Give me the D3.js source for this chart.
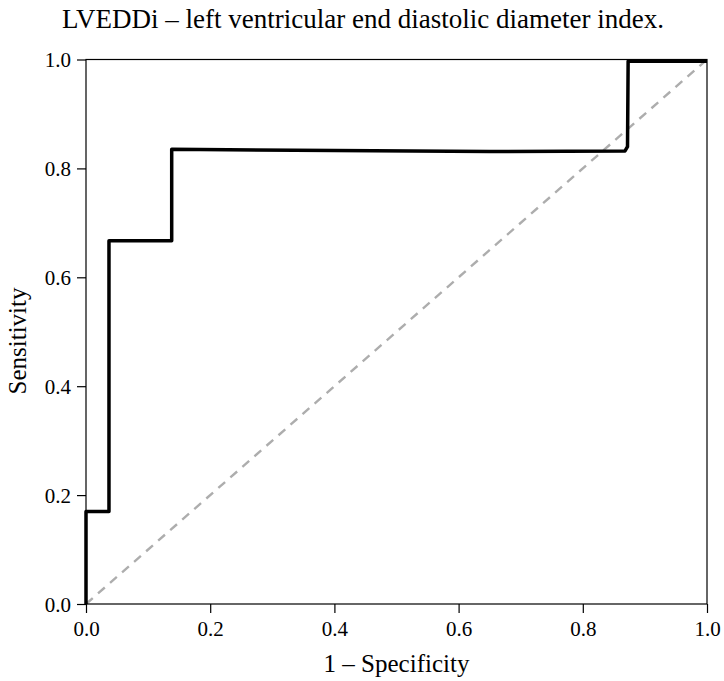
<!DOCTYPE html>
<html>
<head>
<meta charset="utf-8">
<script src="https://cdn.jsdelivr.net/npm/d3@7"></script>
<style>
  body { margin: 0; background: #fff; }
  svg text { font-family: "Liberation Serif", "Times New Roman", serif; fill: #000; }
</style>
</head>
<body>
<svg id="chart"></svg>
<script>
// ROC curve points (1 - specificity, sensitivity)
const fpr = [0, 0, 0.037, 0.037, 0.138, 0.138, 0.40, 0.65, 0.868, 0.872, 0.873, 1.0];
const tpr = [0, 0.17, 0.17, 0.667, 0.667, 0.835, 0.833, 0.831, 0.832, 0.84, 0.997, 0.997];
const tickValues = [0, 0.2, 0.4, 0.6, 0.8, 1.0];
const titleText = "LVEDDi \u2013 left ventricular end diastolic diameter index.";
const xLabel = "1 \u2013 Specificity";
const yLabel = "Sensitivity";

const width = 724, height = 681;
const margin = { top: 59.5, right: 17, bottom: 77, left: 86 };

const svg = d3.select('#chart')
  .attr('width', width)
  .attr('height', height);

const x = d3.scaleLinear().domain([0, 1]).range([margin.left, width - margin.right]);
const y = d3.scaleLinear().domain([0, 1]).range([height - margin.bottom, margin.top]);

// diagonal reference
svg.append('line')
  .attr('x1', x(0)).attr('y1', y(0))
  .attr('x2', x(1)).attr('y2', y(1))
  .attr('stroke', '#adadad')
  .attr('stroke-width', 2.4)
  .attr('stroke-dasharray', '9,7');

// frame
svg.append('rect')
  .attr('x', x(0)).attr('y', y(1))
  .attr('width', x(1) - x(0))
  .attr('height', y(0) - y(1))
  .attr('fill', 'none')
  .attr('stroke', '#000')
  .attr('stroke-width', 1.2);

// axes
const xAxis = svg.append('g')
  .attr('transform', `translate(0,${y(0)})`)
  .call(d3.axisBottom(x).tickValues(tickValues).tickFormat(d3.format('.1f')).tickSize(9).tickPadding(8));

const yAxis = svg.append('g')
  .attr('transform', `translate(${x(0)},0)`)
  .call(d3.axisLeft(y).tickValues(tickValues).tickFormat(d3.format('.1f')).tickSize(9).tickPadding(6));

[xAxis, yAxis].forEach(g => {
  g.attr('font-family', null).attr('font-size', null);
  g.select('.domain').remove();
  g.selectAll('line').attr('stroke', '#000').attr('stroke-width', 1.2);
  g.selectAll('text')
    .style('font-family', '"Liberation Serif", "Times New Roman", serif')
    .style('font-size', '21px');
});
yAxis.selectAll('text').attr('dy', '0.35em');

// ROC curve
const pts = fpr.map((d, i) => [d, tpr[i]]);
const line = d3.line().x(d => x(d[0])).y(d => y(d[1]));
svg.append('path')
  .datum(pts)
  .attr('d', line)
  .attr('fill', 'none')
  .attr('stroke', '#000')
  .attr('stroke-width', 3.5)
  .attr('stroke-linejoin', 'round');

// title
svg.append('text')
  .attr('x', 363)
  .attr('y', 28)
  .attr('text-anchor', 'middle')
  .attr('font-size', '27px')
  .text(titleText);

// axis titles
svg.append('text')
  .attr('x', (x(0) + x(1)) / 2)
  .attr('y', 672)
  .attr('text-anchor', 'middle')
  .attr('font-size', '25px')
  .text(xLabel);

svg.append('text')
  .attr('transform', `translate(26,341) rotate(-90)`)
  .attr('text-anchor', 'middle')
  .attr('font-size', '25px')
  .text(yLabel);
</script>
</body>
</html>
